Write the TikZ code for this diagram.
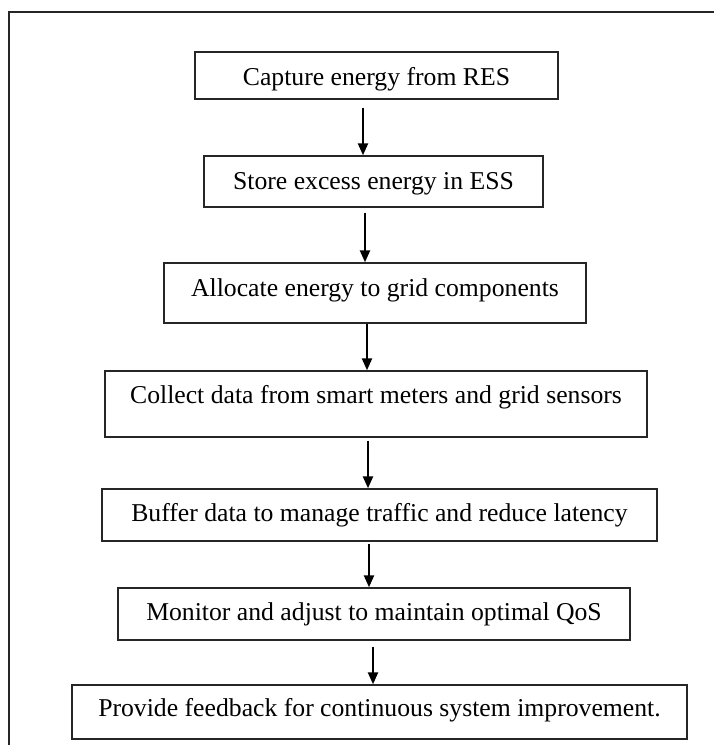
\documentclass[tikz,border=0pt]{standalone}
\usepackage{fontspec}
\setmainfont{Liberation Serif}
\usetikzlibrary{arrows.meta}
\begin{document}
\begin{tikzpicture}[x=1pt,y=-1pt,
  stepbox/.style={draw=black!85, line width=1.4pt, rectangle, inner sep=0pt,
    text height=20pt, font=\fontsize{25.7}{30}\selectfont},
  arr/.style={line width=2.3pt, -{Triangle[length=12pt,width=10pt]}},
  frame/.style={line width=1.6pt, draw=black!85}]
\useasboundingbox (0,0) rectangle (714,745);
\draw[frame] (9,745) -- (9,11.7) -- (714,11.7);
\node[stepbox, minimum width=363pt, minimum height=47pt, text depth=0pt] (b1) at (376.5,75.5) {Capture energy from RES};
\node[stepbox, minimum width=339pt, minimum height=51pt, text depth=4pt] (b2) at (373.5,181.5) {Store excess energy in ESS};
\node[stepbox, minimum width=422pt, minimum height=60pt, text depth=12.4pt] (b3) at (375,293) {Allocate energy to grid components};
\node[stepbox, minimum width=542pt, minimum height=66pt, text depth=21pt] (b4) at (376,404) {Collect data from smart meters and grid sensors};
\node[stepbox, minimum width=555pt, minimum height=52pt, text depth=7pt] (b5) at (379.5,515) {Buffer data to manage traffic and reduce latency};
\node[stepbox, minimum width=512pt, minimum height=52pt, text depth=7.6pt] (b6) at (374,614) {Monitor and adjust to maintain optimal QoS};
\node[stepbox, minimum width=615pt, minimum height=54pt, text depth=11pt] (b7) at (379.5,712) {Provide feedback for continuous system improvement.};
\draw[arr] ([yshift=-8pt]b1.south -| 363,0) -- (b2.north -| 363,0);
\draw[arr] ([yshift=-5pt]b2.south -| 365,0) -- (b3.north -| 365,0);
\draw[arr] (b3.south -| 367,0) -- (b4.north -| 367,0);
\draw[arr] ([yshift=-3pt]b4.south -| 368,0) -- (b5.north -| 368,0);
\draw[arr] ([yshift=-2pt]b5.south -| 369,0) -- (b6.north -| 369,0);
\draw[arr] ([yshift=-6pt]b6.south -| 373,0) -- (b7.north -| 373,0);
\end{tikzpicture}
\end{document}
